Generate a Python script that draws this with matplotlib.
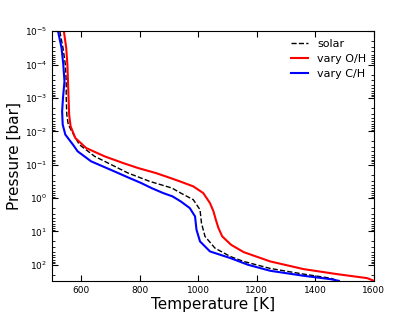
import numpy as np
import matplotlib.pyplot as plt

# perfis: log10(P [bar]) e T [K]
logp_solar = [-5, -4.5, -4, -3.5, -3, -2.5, -2.2, -1.95, -1.6, -1.25, -1.0, -0.75, -0.5, -0.3, -0.15, 0.05,
              0.35, 0.75, 1.15, 1.5, 1.75, 1.9, 2.11, 2.28, 2.4, 2.47]
t_solar = [527, 538, 546, 549, 549, 551, 556, 571, 594, 646, 703, 760, 834, 910, 940, 983,
           1006, 1011, 1023, 1057, 1109, 1155, 1246, 1360, 1451, 1474]

logp_oh = [-5, -4.5, -4, -3.5, -3, -2.5, -2.15, -1.8, -1.5, -1.25, -1.05, -0.9, -0.75, -0.6, -0.5, -0.35,
           -0.15, 0.15, 0.4, 0.65, 0.9, 1.15, 1.4, 1.62, 1.9, 2.13, 2.28, 2.4, 2.48]
t_oh = [541, 549, 553, 555, 557, 559, 564, 580, 617, 680, 743, 794, 855, 905, 937, 983,
        1017, 1040, 1052, 1060, 1069, 1082, 1112, 1155, 1246, 1360, 1474, 1577, 1600]

logp_ch = [-5, -4.5, -4, -3.5, -3, -2.6, -2.2, -1.9, -1.6, -1.4, -1.1, -0.85, -0.6, -0.45, -0.3, -0.15,
           -0.05, 0.1, 0.3, 0.55, 0.95, 1.3, 1.6, 1.8, 2.0, 2.18, 2.33, 2.43, 2.48]
t_ch = [521, 533, 539, 543, 538, 535, 537, 546, 572, 588, 634, 700, 765, 805, 840, 880,
        912, 940, 971, 989, 994, 1006, 1040, 1110, 1170, 1246, 1360, 1451, 1480]

fig = plt.figure(figsize=(4.15, 3.12), dpi=100)
ax = fig.add_axes([0.125, 0.1, 0.776, 0.8])

ax.plot(t_solar, 10.0 ** np.array(logp_solar), 'k--', lw=1, label='solar')
ax.plot(t_oh, 10.0 ** np.array(logp_oh), color='red', lw=1.5, label='vary O/H')
ax.plot(t_ch, 10.0 ** np.array(logp_ch), color='blue', lw=1.5, label='vary C/H')

ax.set_yscale('log')
ax.set_xlim(500, 1600)
ax.set_ylim(10 ** 2.48, 1e-5)
ax.set_xticks([600, 800, 1000, 1200, 1400, 1600])
ax.set_yticks([1e-5, 1e-4, 1e-3, 1e-2, 1e-1, 1, 10, 100])

ax.tick_params(which='both', direction='in', top=True, right=True, labelsize=6.5)
ax.tick_params(which='major', length=4)
ax.tick_params(which='minor', length=2)

ax.set_xlabel('Temperature [K]', fontsize=11, labelpad=2)
ax.set_ylabel('Pressure [bar]', fontsize=11, labelpad=2)

ax.legend(loc='upper right', frameon=False, fontsize=8, handlelength=1.5,
          borderaxespad=0.3, labelspacing=0.45)

fig.savefig('out.png', dpi=100)
